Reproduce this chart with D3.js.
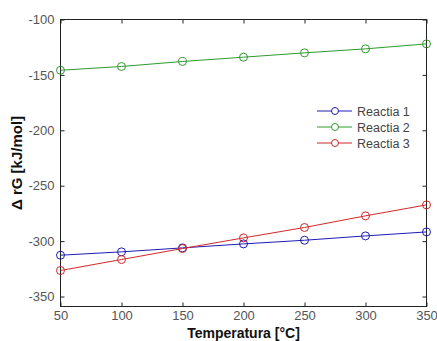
<!DOCTYPE html>
<html>
<head>
<meta charset="utf-8">
<script src="https://cdn.jsdelivr.net/npm/d3@7"></script>
<style>
  body { margin: 0; background: #fff; }
  svg { font-family: Arial, "Liberation Sans", sans-serif; }
</style>
</head>
<body>
<svg id="chart" width="437" height="341"></svg>
<script>
// Daten
const temperatures = [50, 100, 150, 200, 250, 300, 350];
const reactia1 = [-312.7, -309.7, -306.1, -302.5, -299.2, -295.3, -291.7];
const reactia2 = [-145.8, -142.4, -137.9, -134.0, -130.1, -126.5, -122.0];
const reactia3 = [-326.5, -316.6, -306.7, -297.1, -287.7, -277.2, -267.3];
const seriesNames = ["Reactia 1", "Reactia 2", "Reactia 3"];
const xTicks = [50, 100, 150, 200, 250, 300, 350];
const yTicks = [-100, -150, -200, -250, -300, -350];

const colors = ["#1c1cb4", "#2e9a2e", "#d02828"];
const series = [reactia1, reactia2, reactia3];

// SVG Konfiguration
const svg = d3.select("#chart");
const plotLeft = 60.5, plotRight = 426.5, plotTop = 19.5, plotBottom = 306.5;

const x = d3.scaleLinear().domain([50, 350]).range([plotLeft, plotRight]);
const y = d3.scaleLinear().domain([-359, -100]).range([plotBottom, plotTop]);

// Rahmen
svg.append("rect")
    .attr("x", plotLeft).attr("y", plotTop)
    .attr("width", plotRight - plotLeft).attr("height", plotBottom - plotTop)
    .attr("fill", "none").attr("stroke", "#222").attr("stroke-width", 1);

// Achsen (Ticks nach innen), Bindestrich statt Minuszeichen wie im Original
const fmt = d => String(d);
const tickLen = 4;
const axisBottom = svg.append("g").attr("transform", `translate(0,${plotBottom})`)
    .call(d3.axisBottom(x).tickValues(xTicks).tickSizeInner(-tickLen).tickSizeOuter(0).tickPadding(4).tickFormat(fmt));
const axisTop = svg.append("g").attr("transform", `translate(0,${plotTop})`)
    .call(d3.axisTop(x).tickValues(xTicks).tickSizeInner(-tickLen).tickSizeOuter(0).tickFormat(""));
const axisLeft = svg.append("g").attr("transform", `translate(${plotLeft},0)`)
    .call(d3.axisLeft(y).tickValues(yTicks).tickSizeInner(-tickLen).tickSizeOuter(0).tickPadding(6).tickFormat(fmt));
const axisRight = svg.append("g").attr("transform", `translate(${plotRight},0)`)
    .call(d3.axisRight(y).tickValues(yTicks).tickSizeInner(-tickLen).tickSizeOuter(0).tickFormat(""));

[axisBottom, axisTop, axisLeft, axisRight].forEach(a => {
    a.select(".domain").remove();
    a.selectAll(".tick line").attr("stroke", "#222");
    a.selectAll("text").attr("font-size", "13px").attr("fill", "#555")
        .attr("font-family", "Arial, 'Liberation Sans', sans-serif");
});

// Linien und Marker
const line = d3.line()
    .x((d, i) => x(temperatures[i]))
    .y(d => y(d));

series.forEach((values, s) => {
    svg.append("path")
        .datum(values)
        .attr("d", line)
        .attr("fill", "none")
        .attr("stroke", colors[s])
        .attr("stroke-width", 1);
    svg.append("g").selectAll("circle")
        .data(values)
        .join("circle")
        .attr("cx", (d, i) => x(temperatures[i]))
        .attr("cy", d => y(d))
        .attr("r", 4)
        .attr("fill", "none")
        .attr("stroke", colors[s])
        .attr("stroke-width", 1);
});

// Legende
const legend = svg.append("g");
seriesNames.forEach((name, i) => {
    const ly = 111 + i * 16;
    legend.append("line")
        .attr("x1", 317).attr("x2", 352)
        .attr("y1", ly).attr("y2", ly)
        .attr("stroke", colors[i]).attr("stroke-width", 1);
    legend.append("circle")
        .attr("cx", 335).attr("cy", ly).attr("r", 3.5)
        .attr("fill", "#fff").attr("stroke", colors[i]);
    legend.append("text")
        .attr("x", 357).attr("y", ly + 4.5)
        .attr("font-size", "12.5px").attr("fill", "#444")
        .text(name);
});

// Achsentitel
svg.append("text")
    .attr("x", (plotLeft + plotRight) / 2).attr("y", 337.5)
    .attr("text-anchor", "middle")
    .attr("font-size", "14px").attr("font-weight", "bold").attr("fill", "#111")
    .text("Temperatura [°C]");

svg.append("text")
    .attr("transform", `translate(22,163) rotate(-90)`)
    .attr("text-anchor", "middle")
    .attr("font-size", "15px").attr("font-weight", "bold").attr("fill", "#111")
    .text("Δ rG [kJ/mol]");
</script>
</body>
</html>
